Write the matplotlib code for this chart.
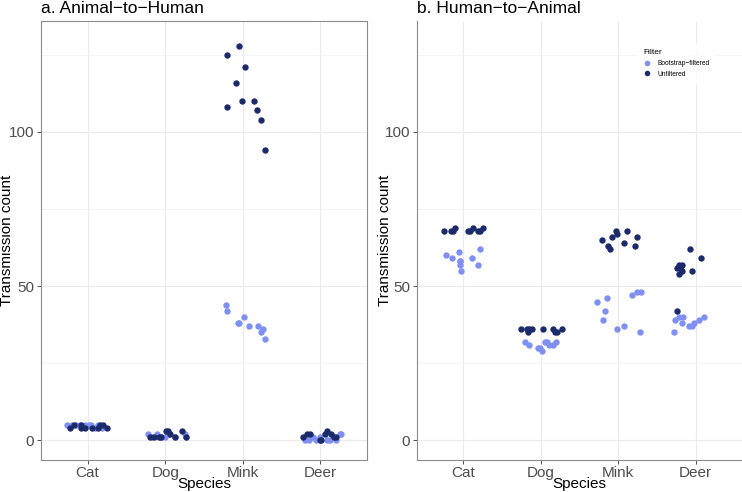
import numpy as np
import pandas as pd
import matplotlib
matplotlib.use("Agg")
import matplotlib.pyplot as plt
from matplotlib.lines import Line2D

plt.rcParams['font.family'] = ['Liberation Sans', 'DejaVu Sans']

# categories and colours
species = ['Cat', 'Dog', 'Mink', 'Deer']
filters = ['Bootstrap\u2212filtered', 'Unfiltered']
colours = {'Bootstrap\u2212filtered': '#7F8FF2', 'Unfiltered': '#1B2A6B'}

# a. Animal-to-Human counts (10 replicates per species)
a2h_boot = {
    'Cat':  [5, 5, 5, 5, 5, 4, 5, 4, 5, 5],
    'Dog':  [2, 1, 2, 1, 1, 2, 1, 2, 1, 2],
    'Mink': [44, 42, 40, 38, 38, 37, 37, 36, 35, 33],
    'Deer': [0, 0, 0, 1, 0, 2, 0, 1, 0, 2],
}
a2h_unf = {
    'Cat':  [4, 5, 5, 4, 4, 4, 4, 5, 4, 5],
    'Dog':  [1, 1, 1, 1, 3, 3, 2, 1, 3, 1],
    'Mink': [128, 125, 121, 116, 110, 110, 108, 107, 104, 94],
    'Deer': [1, 2, 2, 0, 0, 2, 3, 2, 1, 1],
}

# b. Human-to-Animal counts
h2a_boot = {
    'Cat':  [60, 59, 61, 58, 57, 55, 59, 57, 62, 58],
    'Dog':  [32, 31, 30, 29, 32, 32, 31, 31, 32, 30],
    'Mink': [45, 39, 42, 46, 36, 37, 47, 48, 35, 48],
    'Deer': [35, 39, 40, 38, 40, 37, 37, 38, 39, 40],
}
h2a_unf = {
    'Cat':  [68, 68, 68, 69, 68, 68, 69, 68, 68, 69],
    'Dog':  [36, 36, 35, 36, 36, 36, 36, 35, 35, 36],
    'Mink': [65, 63, 62, 66, 68, 67, 64, 68, 63, 66],
    'Deer': [42, 56, 54, 57, 56, 57, 55, 62, 55, 59],
}

# horizontal jitter (category units)
a2h_boot_jit = {
    'Cat':  [-0.26, -0.20, -0.10, -0.03, 0.05, 0.10, 0.14, 0.18, 0.02, -0.15],
    'Dog':  [-0.22, -0.17, -0.10, -0.05, 0.00, 0.05, 0.12, 0.25, 0.27, 0.03],
    'Mink': [-0.22, -0.20, 0.01, -0.06, -0.05, 0.08, 0.19, 0.26, 0.23, 0.28],
    'Deer': [-0.20, -0.15, -0.06, 0.00, 0.08, 0.27, 0.20, -0.10, 0.12, 0.25],
}
a2h_unf_jit = {
    'Cat':  [-0.23, -0.18, -0.09, -0.09, -0.03, 0.06, 0.13, 0.16, 0.25, 0.20],
    'Dog':  [-0.19, -0.15, -0.08, -0.05, 0.01, 0.04, 0.06, 0.12, 0.22, 0.27],
    'Mink': [-0.05, -0.20, 0.03, -0.09, -0.01, 0.14, -0.20, 0.18, 0.23, 0.29],
    'Deer': [-0.22, -0.17, -0.13, -0.01, 0.01, 0.06, 0.09, 0.14, 0.18, 0.20],
}
h2a_boot_jit = {
    'Cat':  [-0.22, -0.15, -0.06, -0.05, -0.04, -0.03, 0.11, 0.19, 0.21, -0.04],
    'Dog':  [-0.21, -0.15, -0.01, 0.01, 0.06, 0.08, 0.10, 0.16, 0.20, -0.03],
    'Mink': [-0.28, -0.20, -0.17, -0.14, -0.02, 0.08, 0.18, 0.24, 0.28, 0.30],
    'Deer': [-0.28, -0.26, -0.22, -0.18, -0.16, -0.08, -0.05, -0.02, 0.04, 0.11],
}
h2a_unf_jit = {
    'Cat':  [-0.25, -0.16, -0.13, -0.11, 0.06, 0.09, 0.12, 0.19, 0.21, 0.25],
    'Dog':  [-0.26, -0.18, -0.16, -0.15, -0.12, 0.03, 0.16, 0.18, 0.21, 0.28],
    'Mink': [-0.21, -0.13, -0.11, -0.08, -0.03, -0.01, 0.08, 0.11, 0.22, 0.24],
    'Deer': [-0.24, -0.24, -0.22, -0.21, -0.20, -0.18, -0.17, -0.07, -0.05, 0.07],
}


def build(boot, unf, boot_jit, unf_jit):
    rows = []
    for i, sp in enumerate(species):
        for v, j in zip(boot[sp], boot_jit[sp]):
            rows.append((sp, i + 1 + j, v, filters[0]))
        for v, j in zip(unf[sp], unf_jit[sp]):
            rows.append((sp, i + 1 + j, v, filters[1]))
    return pd.DataFrame(rows, columns=['Species', 'x', 'Count', 'Filter'])


df_a = build(a2h_boot, a2h_unf, a2h_boot_jit, a2h_unf_jit)
df_b = build(h2a_boot, h2a_unf, h2a_boot_jit, h2a_unf_jit)

fig = plt.figure(figsize=(7.42, 4.92), dpi=100)
ax1 = fig.add_axes([41 / 742, 32 / 492, 326 / 742, 439 / 492])
ax2 = fig.add_axes([417 / 742, 32 / 492, 325 / 742, 439 / 492])


def style(ax, title, ylab_x):
    ax.set_xlim(0.4, 4.6)
    ax.set_ylim(-6.4, 136)
    ax.set_xticks(range(1, 5))
    ax.set_xticklabels(species)
    ax.set_yticks([0, 50, 100])
    ax.set_yticks([25, 75, 125], minor=True)
    ax.grid(which='major', color='#EBEBEB', linewidth=0.8)
    ax.grid(which='minor', axis='y', color='#F2F2F2', linewidth=0.5)
    ax.set_axisbelow(True)
    ax.tick_params(axis='both', which='major', labelsize=11, labelcolor='#4D4D4D',
                   color='#333333', length=3, width=0.6)
    ax.tick_params(axis='x', which='major', pad=1)
    ax.tick_params(axis='y', which='major', pad=2)
    ax.tick_params(which='minor', length=0)
    ax.set_xlabel('Species', fontsize=11, va='center')
    ax.xaxis.set_label_coords(0.5, -0.054)
    ax.set_ylabel('Transmission count', fontsize=11, va='center')
    ax.yaxis.set_label_coords(ylab_x, 0.5)
    ax.text(0, 1.018, title, transform=ax.transAxes, fontsize=12.5,
            ha='left', va='baseline')


for ax, df, title, ylx in [(ax1, df_a, 'a. Animal\u2212to\u2212Human', -0.105),
                           (ax2, df_b, 'b. Human\u2212to\u2212Animal', -0.097)]:
    for f in filters:
        sub = df[df['Filter'] == f]
        ax.scatter(sub['x'], sub['Count'], s=21, color=colours[f],
                   linewidths=0, zorder=3)
    style(ax, title, ylx)

for sp in ax1.spines.values():
    sp.set_color('#8C8C8C')
    sp.set_linewidth(0.8)

for side in ['top', 'right']:
    ax2.spines[side].set_visible(False)
for side in ['left', 'bottom']:
    ax2.spines[side].set_color('#8C8C8C')
    ax2.spines[side].set_linewidth(0.8)

handles = [Line2D([], [], marker='o', linestyle='', markersize=4,
                  markerfacecolor=colours[f], markeredgewidth=0) for f in filters]
leg = ax2.legend(handles, filters, title='Filter', loc='upper left',
                 bbox_to_anchor=(0.67, 0.955), frameon=True, fontsize=4.8,
                 title_fontsize=6, handletextpad=1.1, labelspacing=0.55,
                 borderpad=0.8, handlelength=1.0)
leg.get_frame().set_edgecolor('white')
leg.get_frame().set_facecolor('white')
leg._legend_box.align = 'left'

fig.savefig('out.png', dpi=100)
